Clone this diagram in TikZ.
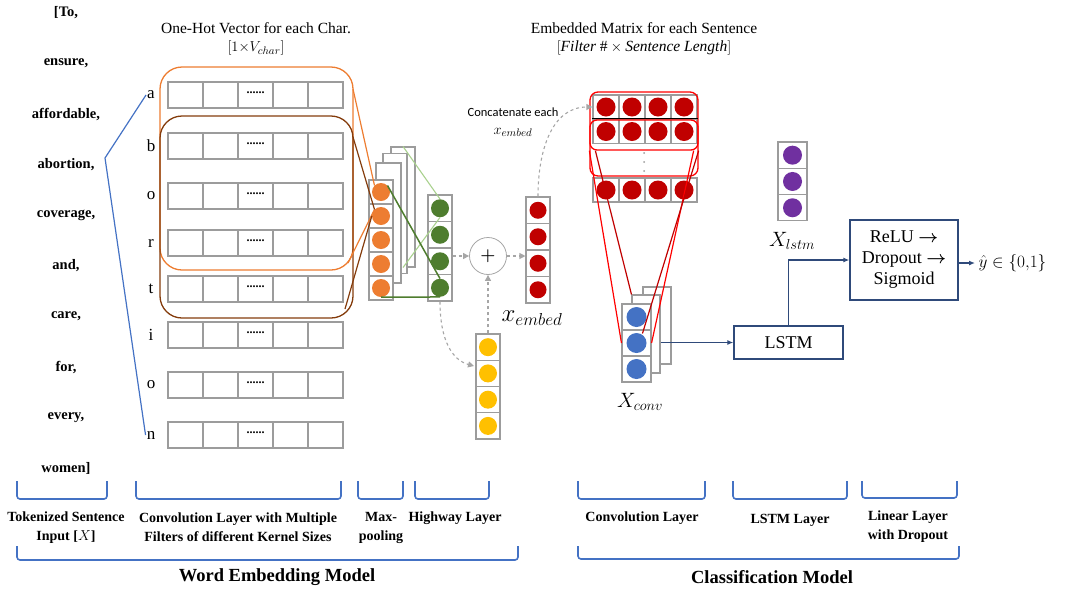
\documentclass[tikz,border=0pt]{standalone}
\usepackage{amsmath}
\usepackage{amssymb}
\usepackage{fontspec}
\setmainfont{Liberation Serif}
\newfontfamily\calfont{Carlito}
\usepackage{tikz}
\usetikzlibrary{arrows.meta}

\definecolor{cellgray}{HTML}{9C9C9C}
\definecolor{flowgray}{HTML}{A6A6A6}
\definecolor{hotorange}{HTML}{ED7D31}
\definecolor{filtbrown}{HTML}{843C0C}
\definecolor{hwgreen}{HTML}{4E7D2E}
\definecolor{lightgreen}{HTML}{A9D18E}
\definecolor{embred}{HTML}{C00000}
\definecolor{brightred}{HTML}{FF0000}
\definecolor{gateyellow}{HTML}{FFC000}
\definecolor{convblue}{HTML}{4472C4}
\definecolor{lstmpurple}{HTML}{7030A0}
\definecolor{boxnavy}{HTML}{2F4A7A}
\definecolor{bracblue}{HTML}{4472C4}

\begin{document}
\begin{tikzpicture}[x=1pt,y=-1pt]
\tikzstyle{cell}=[draw=cellgray,line width=1.1pt,minimum width=35pt,minimum height=26pt,inner sep=0pt];
\tikzstyle{vcell}=[draw=cellgray,fill=white,line width=1.1pt,minimum width=24pt,minimum height=26.5pt,inner sep=0pt];
\tikzstyle{back}=[draw=cellgray,fill=white,line width=1.1pt,inner sep=0pt];
\tikzstyle{ball}=[circle,inner sep=0pt,minimum size=18pt];
\tikzstyle{word}=[font=\fontsize{14.5}{17}\selectfont\bfseries];
\tikzstyle{letter}=[font=\fontsize{17}{17}\selectfont,inner sep=1pt];
\tikzstyle{title}=[font=\fontsize{15.5}{18}\selectfont,align=center];
\tikzstyle{lbl}=[font=\fontsize{14}{19}\selectfont\bfseries,align=center];
\tikzstyle{big}=[font=\fontsize{18.5}{20}\selectfont\bfseries];
\tikzstyle{mathlbl}=[font=\fontsize{20}{20}\selectfont];
\tikzstyle{brac}=[draw=bracblue,line width=1.6pt,rounded corners=3pt];
\tikzstyle{flow}=[draw=flowgray,dashed,line width=1.1pt,-{Triangle[length=6pt,width=6pt]}];
\tikzstyle{navy}=[draw=boxnavy,line width=1.2pt,-{Latex[length=6pt,width=5pt]}];
\tikzstyle{box}=[draw=boxnavy,line width=1.3pt,font=\fontsize{18}{21}\selectfont,align=center,inner sep=0pt];

\useasboundingbox (0,0) rectangle (1065,590);

% tokenized sentence
\foreach \w [count=\i] in {{[To,},{ensure,},{affordable,},{abortion,},{coverage,},{and,},{care,},{for,},{every,},{women]}}
  \node[word] (w\i) at (66,{13+(\i-1)*50.6}) {\w};

% one-hot rows
\foreach \ch/\y [count=\i] in {a/95,b/146,o/196,r/243,t/289,i/335,o/385,n/435} {
  \node[letter] (l\i) at (151,\y) {\ch};
  \foreach \c in {1,...,5}
    \node[cell] (c\i-\c) at ({150.5+35*\c},\y) {};
  \node[font=\fontsize{12}{12}\selectfont\bfseries,yshift=2pt] at (c\i-3) {......};
}
\coordinate (bend) at (105,158);
\draw[convblue,line width=1.2pt] (l1.west) -- (bend) -- (l8.west);

\node[title] (onehot) at (256,39) {One-Hot Vector for each Char.\\$[1{\times}V_{char}]$};

% filters
\node[draw=hotorange,line width=1.3pt,rounded corners=22pt,minimum width=193pt,minimum height=203pt] (hotbox) at (256.5,168.5) {};
\node[draw=filtbrown,line width=1.3pt,rounded corners=22pt,minimum width=193pt,minimum height=202pt] (filtbox) at (256.5,217) {};

% max-pooling
\node[back,minimum width=24pt,minimum height=120pt] (pb3) at (403,207) {};
\node[back,minimum width=24pt,minimum height=120pt] (pb2) at (395,213.5) {};
\node[back,minimum width=25pt,minimum height=120pt] (pb1) at (388.5,223) {};
\foreach \k in {1,...,5} {
  \node[vcell,minimum height=24pt] (p\k) at (381,{168+24*\k}) {};
  \node[ball,fill=hotorange] (pd\k) at (p\k) {};
}

\coordinate (hot1) at (353,89);
\coordinate (hot2) at (348,263);
\coordinate (filt1) at (353,137);
\coordinate (filt2) at (345,309);
\draw[hotorange,line width=1.2pt] (hot1) -- (pd1.north west);
\draw[hotorange,line width=1.2pt] (hot2) -- (pd2.north west);
\draw[filtbrown,line width=1.2pt] (filt1) -- (pd2.north west);
\draw[filtbrown,line width=1.2pt] (filt2) -- (pd2.west);

% highway
\foreach \k in {1,...,4} {
  \node[vcell] (g\k) at (440,{181.75+26.5*\k}) {};
  \node[ball,fill=hwgreen] (gd\k) at (g\k) {};
}
\draw[lightgreen,line width=1.1pt] (pb3.north) -- (gd1.north);
\draw[lightgreen,line width=1.1pt] (pb3.south) -- (gd1.south);
\draw[hwgreen,line width=1.5pt] (pd1.north east) -- (gd4.north);
\draw[hwgreen,line width=1.5pt] (pd5.south) -- (gd4.south);

\node[circle,draw=flowgray,line width=0.8pt,minimum size=37pt,inner sep=0pt,font=\fontsize{17}{17}\selectfont] (plus) at (488,256) {$\boldsymbol{+}$};

% gate
\foreach \k in {1,...,4} {
  \node[vcell,minimum height=26.25pt] (y\k) at (488,{320.9+26.25*\k}) {};
  \node[ball,fill=gateyellow] (yd\k) at (y\k) {};
}

% embedded word
\foreach \k in {1,...,4} {
  \node[vcell] (e\k) at (538,{183.75+26.5*\k}) {};
  \node[ball,fill=embred,minimum size=17pt] (ed\k) at (e\k) {};
}
\node[mathlbl,font=\fontsize{23}{23}\selectfont] (xemb) at (532,318) {$x_{embed}$};

\coordinate (gatein) at (474,366);
\draw[flow] (plus.west -| g1.east) -- (plus.west);
\draw[flow] (plus.east) -- (plus.east -| e1.west);
\draw[flow] (y1.north) -- (plus.south);
\draw[flow] (g4.south) .. controls (440,340) and (452,360) .. (gatein);

% embedded matrix
\node[title] (embtitle) at (644,39) {Embedded Matrix for each Sentence\\$[\mathit{Filter}\ \#\times\mathit{Sentence\ Length}]$};
\foreach \r/\y in {1/107,2/131.5,3/190} {
  \foreach \c in {1,...,4} {
    \node[vcell,minimum width=26pt,minimum height=24pt] (m\r\c) at ({580+26*\c},\y) {};
    \node[ball,fill=embred,minimum size=19pt] (md\r\c) at (m\r\c) {};
  }
}
\foreach \yy in {153,162,171}
  \fill[cellgray] (644,\yy) circle (1pt);
\node[draw=brightred,line width=1.3pt,rounded corners=8pt,minimum width=108pt,minimum height=84pt] (mat1) at (644,134) {};
\node[draw=brightred,line width=1.3pt,rounded corners=7pt,minimum width=108pt,minimum height=30pt] (mat2) at (644,135) {};
\draw[black,line width=1pt] (m21.north west) -- (m24.north east);
\draw[flow] (e1.north) .. controls (538,150) and (552,107) .. (m11.west);
\node[font=\calfont\fontsize{12.5}{18}\selectfont,align=center] (concat) at (513,122) {Concatenate each\\{\fontsize{15}{15}\selectfont$x_{embed}$}};

% convolution
\node[back,minimum width=28pt,minimum height=77pt] (vb2) at (657,325.5) {};
\node[back,minimum width=28pt,minimum height=78pt] (vb1) at (646,334) {};
\foreach \k in {1,...,3} {
  \node[vcell,minimum width=29pt,minimum height=26pt] (v\k) at (636.5,{291+26*\k}) {};
  \node[ball,fill=convblue,minimum size=20pt] (vd\k) at (v\k) {};
}
\node[mathlbl] (xconv) at (640,402) {$X_{conv}$};

\draw[brightred,line width=1.2pt] (mat2.south west) -- (v2.west);
\draw[embred,line width=1.2pt] ([xshift=6pt]mat2.south west) -- (vb1.north west);
\draw[brightred,line width=1.2pt] ([xshift=-5pt]mat2.south east) -- (v2.east);
\draw[embred,line width=1.2pt] (mat2.south east) -- ([yshift=-8pt]vb2.west);

% lstm
\node[box,minimum width=109pt,minimum height=33pt] (lstm) at (788.5,342.5) {LSTM};
\draw[navy] (vb1.east |- lstm.west) -- (lstm.west);

\foreach \k in {1,...,3} {
  \node[vcell,minimum width=29pt,minimum height=26.3pt] (s\k) at (792.5,{128.85+26.3*\k}) {};
  \node[ball,fill=lstmpurple,minimum size=19pt] (sd\k) at (s\k) {};
}
\node[mathlbl] (xlstm) at (792,241) {$X_{lstm}$};

% linear layer
\node[box,minimum width=108pt,minimum height=80pt] (dense) at (904,260) {ReLU $\boldsymbol{\rightarrow}$\\Dropout $\boldsymbol{\rightarrow}$\\Sigmoid};
\draw[navy] (lstm.north) |- (dense.west);
\node[font=\fontsize{18}{18}\selectfont,anchor=west] (yhat) at (975,263) {$\hat{y}\in\{0{,}1\}$};
\draw[navy] (dense.east |- yhat.west) -- (yhat.west);

% braces
\draw[brac] (17,481) -- (17,499) -- (107,499) -- (107,481);
\draw[brac] (136,481) -- (136,499) -- (341,499) -- (341,481);
\draw[brac] (358,481) -- (358,499) -- (403,499) -- (403,481);
\draw[brac] (415,481) -- (415,499) -- (489,499) -- (489,481);
\draw[brac] (578,481) -- (578,499) -- (705,499) -- (705,481);
\draw[brac] (733,481) -- (733,499) -- (847,499) -- (847,481);
\draw[brac] (862,481) -- (862,498) -- (957,498) -- (957,481);
\draw[brac] (17,546) -- (17,560) -- (518,560) -- (518,546);
\draw[brac] (578,546) -- (578,559) -- (959,559) -- (959,546);

\node[lbl] (tokl) at (66,527.5) {Tokenized Sentence\\Input [$X$]};
\node[lbl] (convl) at (238,527.5) {Convolution Layer with Multiple\\Filters of different Kernel Sizes};
\node[lbl] (pooll) at (381,527.5) {Max-\\pooling};
\node[lbl] (hwl) at (455,518) {Highway Layer};
\node[lbl] (cconvl) at (642,518) {Convolution Layer};
\node[lbl] (lstml) at (790,520) {LSTM Layer};
\node[lbl] (linl) at (908,527) {Linear Layer\\with Dropout};
\node[big] (weml) at (277,577) {Word Embedding Model};
\node[big] (clsl) at (772,577) {Classification Model};
\end{tikzpicture}
\end{document}
